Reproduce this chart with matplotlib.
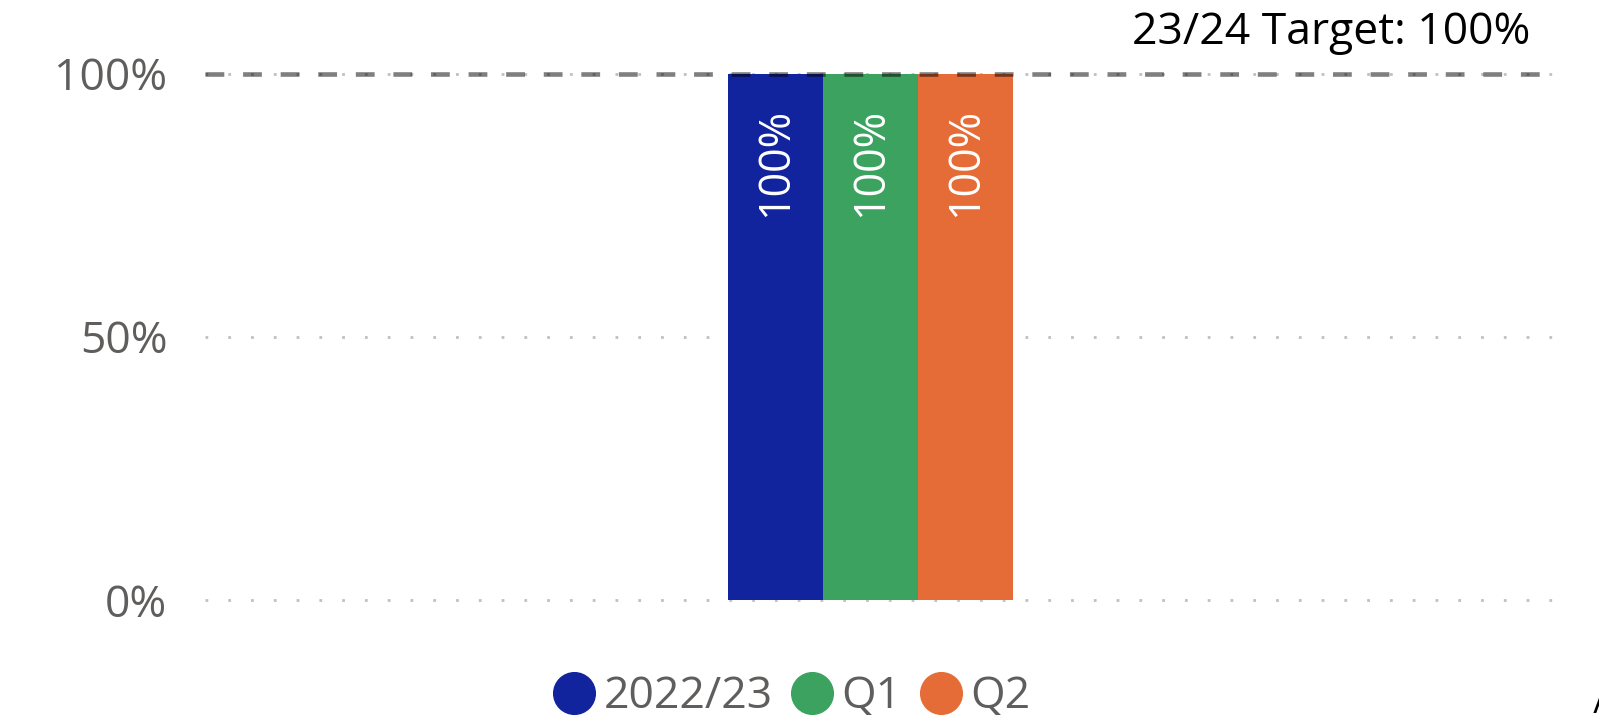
import matplotlib
matplotlib.use("Agg")
import matplotlib.pyplot as plt
from matplotlib.lines import Line2D
import numpy as np

plt.rcParams['font.family'] = ['Open Sans', 'DejaVu Sans']

# ---- data ----
series = ["2022/23", "Q1", "Q2"]
values = [1.00, 1.00, 1.00]
colors = ["#12239E", "#3BA35F", "#E66C37"]
target = 1.00
target_label = "23/24 Target: 100%"
yticks = [0.0, 0.5, 1.0]
ytick_labels = ["0%", "50%", "100%"]

W, H = 1599, 722
fig = plt.figure(figsize=(W / 100, H / 100), dpi=100)
ax = fig.add_axes([205 / W, 1 - 600 / H, 1350 / W, (600 - 73.5) / H])

offsets = np.arange(len(series)) - (len(series) - 1) / 2
bw = 1.0
bars = ax.bar(offsets, values, width=bw, color=colors, zorder=2)

for x, v in zip(offsets, values):
    ax.text(x, v - 0.065, f"{v:.0%}", rotation=90, ha="center", va="top",
            color="white", fontsize=31, zorder=3)

ax.set_xlim(-7.01, 7.2)
ax.set_ylim(0, 1)
ax.set_yticks(yticks)
ax.set_yticklabels(ytick_labels, color="#605E5C", fontsize=32)
ax.tick_params(axis="y", length=0, pad=27)
ax.set_xticks([])
for s in ax.spines.values():
    s.set_visible(False)

for y in yticks:
    ax.axhline(y, color="#C0C0C0", lw=2.0, dashes=(1, 7.2), zorder=1, clip_on=False)

ax.axhline(target, color="black", alpha=0.5, lw=3.3, dashes=(4.1, 4.1), zorder=4, clip_on=False)
fig.text(1530 / W, 1 - 44 / H, target_label, ha="right", va="baseline",
         fontsize=32, color="black")

handles = [Line2D([], [], marker="o", linestyle="", markersize=30,
                  markerfacecolor=c, markeredgecolor=c) for c in colors]
leg = fig.legend(handles, series, loc="center", bbox_to_anchor=(0.4935, 1 - 697 / H),
                 ncol=3, frameon=False, fontsize=32, handletextpad=0.05,
                 columnspacing=0.3, handlelength=1.2, borderpad=0)
for t in leg.get_texts():
    t.set_color("#605E5C")

fig.text(1.0, 1 - 722 / H, "/", ha="center", va="bottom", fontsize=26, color="black")

fig.savefig("out.png", dpi=100)
